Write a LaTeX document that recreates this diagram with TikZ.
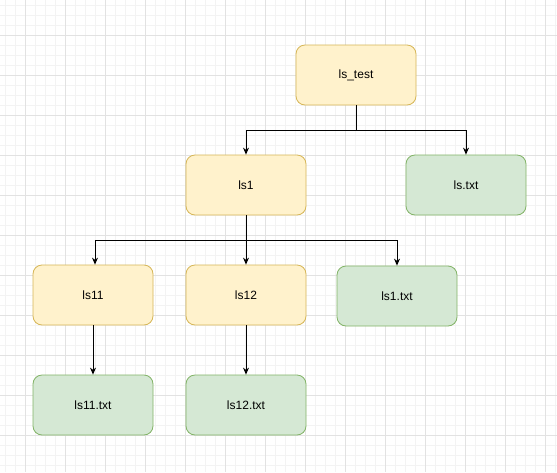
\documentclass[tikz,border=0pt]{standalone}
\usepackage{fontspec}
\setmainfont{Liberation Sans}
\usetikzlibrary{arrows.meta}

\definecolor{folderfill}{HTML}{FFF2CC}
\definecolor{folderline}{HTML}{D6B656}
\definecolor{filefill}{HTML}{D5E8D4}
\definecolor{fileline}{HTML}{82B366}
\definecolor{gridminor}{HTML}{F3F3F3}
\definecolor{gridmajor}{HTML}{E2E2E2}

\begin{document}
\begin{tikzpicture}[x=1pt, y=-1pt, >={Stealth[length=7pt,width=6pt]}, line width=1pt,
		box/.style={rectangle, rounded corners=9pt, minimum width=120pt, minimum height=60pt,
			line width=0.8pt, font=\fontsize{12}{14}\selectfont},
		folder/.style={box, fill=folderfill, draw=folderline},
		file/.style={box, fill=filefill, draw=fileline}]
	
	% --- 1. background grid ---
	\fill[white] (0,0) rectangle (557,472);
	\useasboundingbox (0,0) rectangle (557,472);
	\foreach \x in {5,15,...,555} \draw[gridminor, line width=0.8pt] (\x,0) -- (\x,472);
	\foreach \y in {5,15,...,465} \draw[gridminor, line width=0.8pt] (0,\y) -- (557,\y);
	\foreach \x in {25,65,...,545} \draw[gridmajor, line width=0.8pt] (\x,0) -- (\x,472);
	\foreach \y in {35,75,...,435} \draw[gridmajor, line width=0.8pt] (0,\y) -- (557,\y);
	
	% --- 2. folders and files ---
	\node[folder] (test) at (356,75) {ls\_test};
	\node[folder] (ls1) at (246,185) {ls1};
	\node[file] (lstxt) at (466,185) {ls.txt};
	\node[folder] (ls11) at (93,295) {ls11};
	\node[folder] (ls12) at (246,295) {ls12};
	\node[file] (ls1txt) at (397,296) {ls1.txt};
	\node[file] (ls11txt) at (93,405) {ls11.txt};
	\node[file] (ls12txt) at (246,405) {ls12.txt};
	
	% --- 3. connectors ---
	\draw[->] (test.south) -- ++(0,25) -| (ls1.north);
	\draw[->] (test.south) -- ++(0,25) -| (lstxt.north);
	
	\draw[->] (ls1.south) -- ++(0,25) -| ([xshift=2pt]ls11.north);
	\draw[->] (ls1.south) -- (ls12.north);
	\draw[->] (ls1.south) -- ++(0,25) -| (ls1txt.north);
	
	\draw[->] (ls11.south) -- (ls11txt.north);
	\draw[->] (ls12.south) -- (ls12txt.north);
	
\end{tikzpicture}
\end{document}
